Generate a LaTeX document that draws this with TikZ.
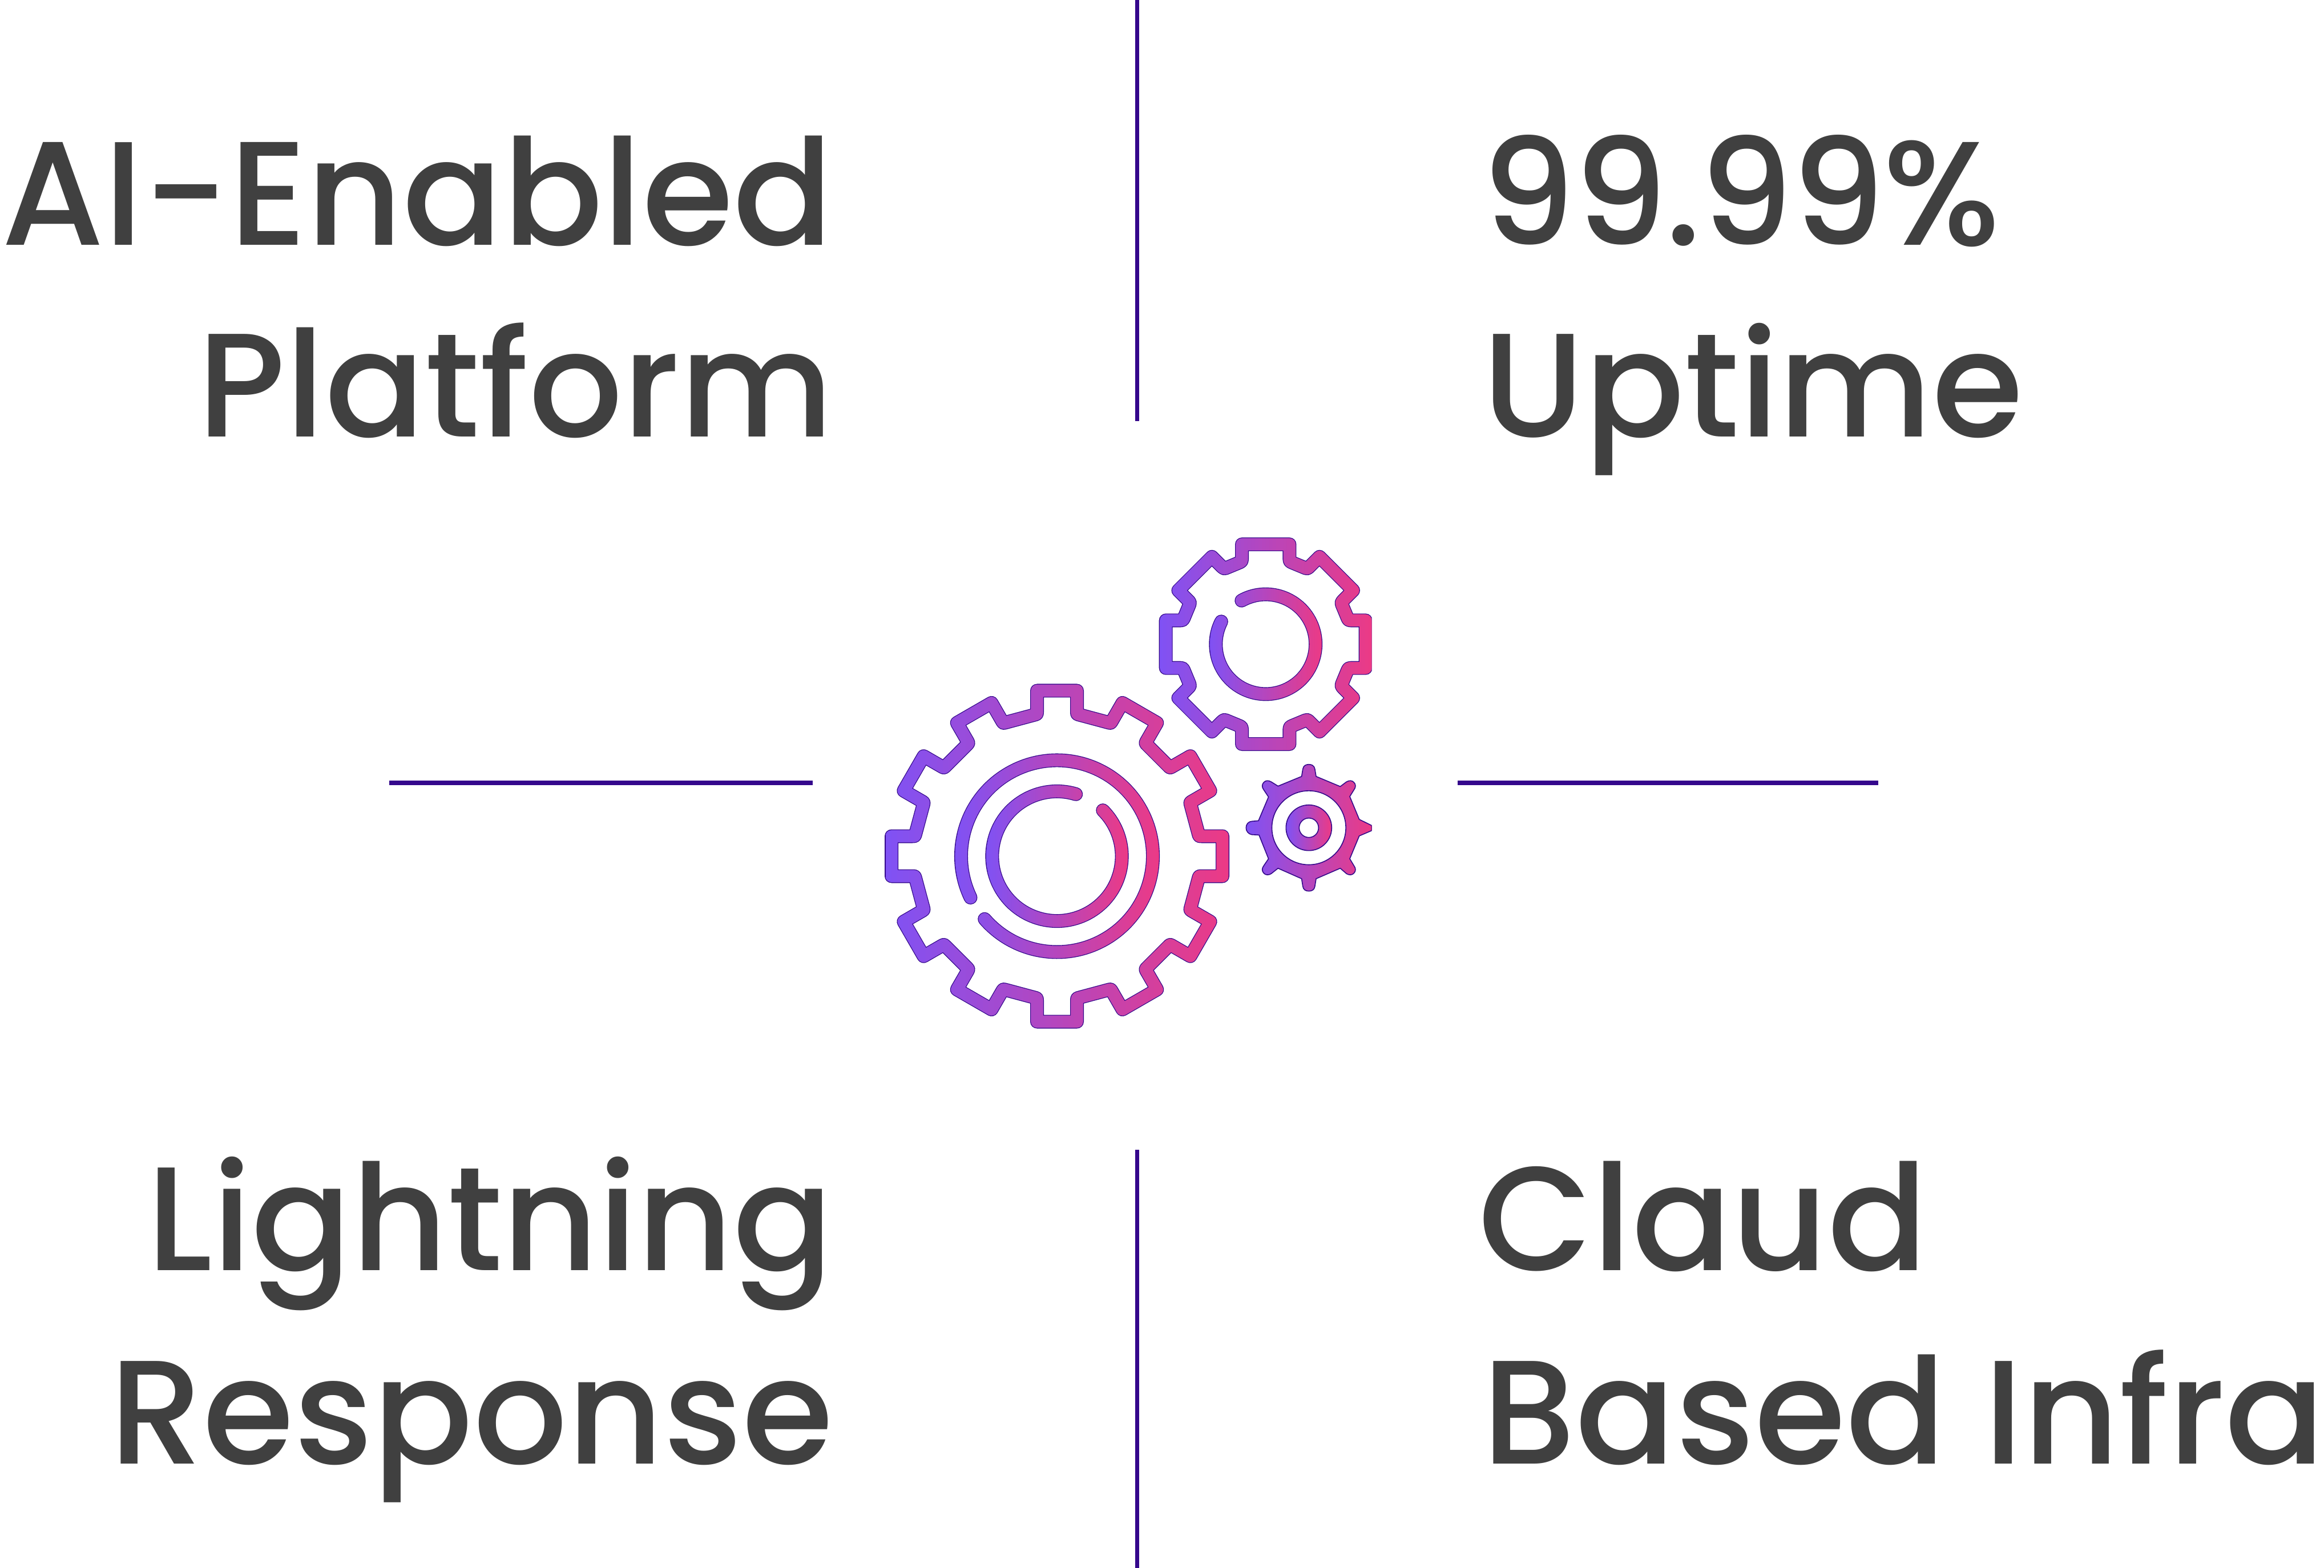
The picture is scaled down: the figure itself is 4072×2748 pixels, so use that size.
\documentclass[tikz,border=0pt]{standalone}
\usepackage{fontspec}
\setmainfont{Poppins Medium}
\definecolor{gL}{RGB}{127,82,245}
\definecolor{gR}{RGB}{236,58,133}
\definecolor{gOut}{RGB}{53,10,140}
\definecolor{rule}{RGB}{53,8,140}
\definecolor{ink}{RGB}{64,64,64}
\tikzset{
  lbl/.style={inner sep=0pt,text=ink,font=\fontsize{64.7}{64.7}\selectfont},
  rulel/.style={draw=rule,line width=1.8pt},
  gstk/.style={line join=round,line cap=round}
}
\newcommand\gadd[3]{%
  \pgfmathsetmacro\grx{\cx+(#2)*cos(\th)+(#3)*sin(\th)}%
  \pgfmathsetmacro\gry{\cy-(#2)*sin(\th)+(#3)*cos(\th)}%
  \xdef\gearp{\gearp #1 (\grx,\gry)}}
% N a R F d cx cy
\newcommand\buildgear[7]{%
  \gdef\gearp{}%
  \def\cx{#6}\def\cy{#7}%
  \pgfmathsetmacro\stp{360/#1}%
  \pgfmathsetmacro\vx{-(#2)*cos(\stp)+(#4)*sin(\stp)}%
  \pgfmathsetmacro\vy{(#2)*sin(\stp)+(#4)*cos(\stp)}%
  \pgfmathsetmacro\wx{-(#2)*cos(\stp)+(#4+#5)*sin(\stp)}%
  \pgfmathsetmacro\wy{(#2)*sin(\stp)+(#4+#5)*cos(\stp)}%
  \pgfmathsetmacro\ln{sqrt((\vx-(#2))^2+(\vy-(#4))^2)}%
  \pgfmathsetmacro\ux{(\vx-(#2))/\ln}%
  \pgfmathsetmacro\uy{(\vy-(#4))/\ln}%
  \foreach \i in {1,...,#1}{%
    \pgfmathsetmacro\th{(\i-1)*\stp}%
    \ifnum\i=1 \gadd{}{-(#2)}{#3}\else\gadd{--}{-(#2)}{#3}\fi
    \gadd{--}{#2}{#3}%
    \gadd{--}{#2}{#4+#5}%
    \gadd{.. controls}{#2}{#4}%
    \gadd{..}{(#2)+(#5)*\ux}{(#4)+(#5)*\uy}%
    \gadd{--}{\vx-(#5)*\ux}{\vy-(#5)*\uy}%
    \gadd{.. controls}{\vx}{\vy}%
    \gadd{..}{\wx}{\wy}%
  }%
  \xdef\gearp{\gearp -- cycle}}
% xL xR pathmacro
\newcommand\gradstroke[3]{%
  \draw[gstk,draw=gOut,line width=6pt] #3;
  \foreach \k in {1,...,60}{%
    \pgfmathsetmacro\xa{#1+(#2-#1)/60*(\k-1)}%
    \pgfmathsetmacro\xb{#1+(#2-#1)/60*(\k+1)}%
    \pgfmathsetmacro\pc{100*(\k-0.5)/60}%
    \begin{scope}
      \clip (\xa,0) rectangle (\xb,-2748);
      \draw[gstk,draw={gR!\pc!gL},line width=5.3pt] #3;
    \end{scope}
  }}
\begin{document}
\begin{tikzpicture}[x=0.25pt,y=0.25pt]
\useasboundingbox (0,0) rectangle (4072,-2748);
\fill[white] (0,0) rectangle (4072,-2748);

% rules
\coordinate (vta) at (1992.5,0);
\coordinate (vtb) at (1992.5,-738);
\coordinate (vba) at (1992.5,-2015);
\coordinate (vbb) at (1992.5,-2748);
\coordinate (hla) at (682,-1372);
\coordinate (hlb) at (1424,-1372);
\coordinate (hra) at (2554,-1372);
\coordinate (hrb) at (3291,-1372);
\draw[rulel] (vta) -- (vtb);
\draw[rulel] (vba) -- (vbb);
\draw[rulel] (hla) -- (hlb);
\draw[rulel] (hra) -- (hrb);

% labels
\node[lbl,anchor=base east] (ai) at (1461,-430) {AI-Enabled};
\node[lbl,anchor=base east] (pf) at (1461,-766) {Platform};
\node[lbl,anchor=base west] (nn) at (2595,-430) {\addfontfeature{LetterSpace=-1.25}99.99\%};
\node[lbl,anchor=base west] (up) at (2597,-766) {Uptime};
\node[lbl,anchor=base east] (li) at (1461,-2226) {Lightning};
\node[lbl,anchor=base east] (re) at (1461,-2565) {Response};
\node[lbl,anchor=base west] (cl) at (2590,-2226) {Claud};
\node[lbl,anchor=base west] (bi) at (2597,-2565) {Based Infra};

% big gear
\coordinate (bigc) at (1852,-1500.5);
\buildgear{12}{35}{290}{249}{4}{1852}{-1500.5}
\gradstroke{1552}{2152}{\gearp}
\def\bigouter{([shift={(205.6:42pt)}]bigc) arc[start angle=205.6,end angle=-139,radius=42pt]}
\gradstroke{1672}{2032}{\bigouter}
\def\biginner{([shift={(73:28.4pt)}]bigc) arc[start angle=73,end angle=405,radius=28.4pt]}
\gradstroke{1727}{1977}{\biginner}

\begin{scope}
\clip (0,0) rectangle (2403.5,-2748);
% upper gear
\coordinate (topc) at (2217.7,-1129);
\buildgear{8}{41.7}{175}{145}{7}{2217.7}{-1129}
\gradstroke{2031}{2404}{\gearp}
\def\toparc{([shift={(119:21.85pt)}]topc) arc[start angle=119,end angle=-207,radius=21.85pt]}
\gradstroke{2118}{2317}{\toparc}
% small gear
\begin{scope}[shift={(2293.3,-1450.7)}]
\path[draw=gOut,line width=0.4pt,left color=gL,right color=gR,even odd rule]
  (-12.7,90) -- (-10.5,103) .. controls (-9.5,109) and (-5,111) .. (0,111) .. controls (5,111) and (9.5,109) .. (10.5,103) -- (12.7,90)
  -- (55,72.3) -- (66,80.5) .. controls (71,83.5) and (76,83) .. (79,79.5) .. controls (82.5,76) and (82.5,71) .. (79,66.5) -- (71.7,54.7)
  -- (88.3,14.7) -- (110,4) -- (110,-5) -- (88.3,-14.3)
  -- (71.7,-54.3) -- (79,-66.5) .. controls (82.5,-71) and (82.5,-76) .. (79,-79.5) .. controls (76,-83) and (71,-83.5) .. (66,-80.5) -- (55,-71)
  -- (12.7,-89.3) -- (10.5,-103) .. controls (9.5,-109) and (5,-111) .. (0,-111) .. controls (-5,-111) and (-9.5,-109) .. (-10.5,-103) -- (-12.7,-89.3)
  -- (-54,-71) -- (-66,-80.5) .. controls (-71,-83.5) and (-76,-83) .. (-79,-79.5) .. controls (-82.5,-76) and (-82.5,-71) .. (-79,-66.5) -- (-70.7,-54.3)
  -- (-87.3,-12.7) -- (-100,-12) .. controls (-106,-11) and (-110,-6) .. (-110,0) .. controls (-110,6) and (-106,11) .. (-100,11.3) -- (-88.3,12.3)
  -- (-70.7,54) -- (-79,66.5) .. controls (-82.5,71) and (-82.5,76) .. (-79,79.5) .. controls (-76,83) and (-71,83.5) .. (-66,80.5) -- (-54,73)
  -- cycle
  (0,0) circle[radius=16.2pt];
\path[draw=gOut,line width=0.4pt,left color=gL,right color=gR,even odd rule]
  (0,0) circle[radius=10pt] (0,0) circle[radius=4.25pt];
\end{scope}
\end{scope}
\end{tikzpicture}
\end{document}
